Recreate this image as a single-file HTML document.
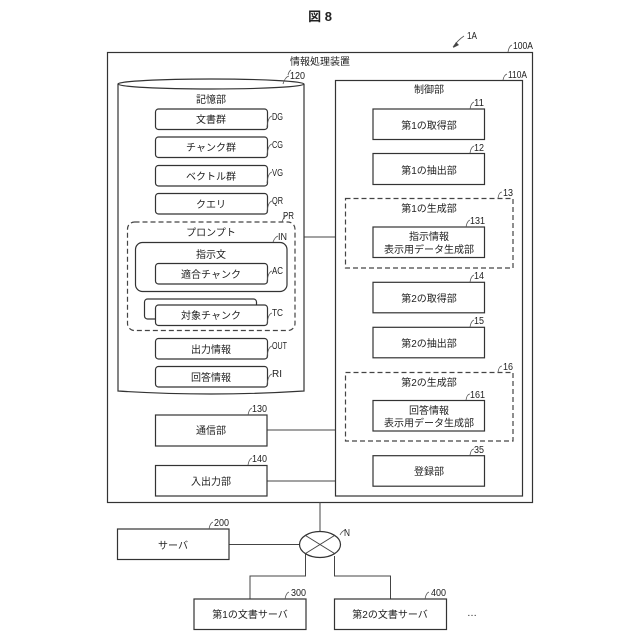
<!DOCTYPE html>
<html lang="ja"><head><meta charset="utf-8"><title>図8</title>
<style>
html,body{margin:0;padding:0;background:#fff}
svg{display:block}
text{font-family:"Liberation Sans","Noto Sans CJK JP",sans-serif;font-size:10px;fill:#222}
.c{text-anchor:middle}
.r{fill:#fff;stroke:#333;stroke-width:1.2}
.d{fill:#fff;stroke:#444;stroke-width:1.2;stroke-dasharray:5 3}
.l{fill:none;stroke:#444;stroke-width:1}
.q{fill:none;stroke:#555;stroke-width:.8}
</style></head><body>
<svg width="640" height="640" viewBox="0 0 640 640" xmlns="http://www.w3.org/2000/svg">
<text x="320" y="21" class="c" style="font-size:13px;font-weight:bold">図 8</text>
<rect class="r" x="107.5" y="52.5" width="425" height="450"/>
<text x="320" y="65" class="c">情報処理装置</text>
<path class="l" d="M304 237H335M267 430H335M267 481H335M320 502V531M229 544.5H300M305.5 554V576H250V599M334.5 556V576H390.500V599"/>
<path class="r" d="M118 84V391Q211 397 304 391V84"/>
<ellipse class="r" cx="211" cy="84" rx="93" ry="5"/>
<text x="211" y="103" class="c">記憶部</text>
<g>
<rect class="r" x="155.500" y="109" width="112" height="20.500" rx="3"/><text x="211" y="123" class="c">文書群</text>
<rect class="r" x="155.500" y="137" width="112" height="20.500" rx="3"/><text x="211" y="151" class="c">チャンク群</text>
<rect class="r" x="155.500" y="165.500" width="112" height="20.500" rx="3"/><text x="211" y="180" class="c">ベクトル群</text>
<rect class="r" x="155.500" y="193.500" width="112" height="20.500" rx="3"/><text x="211" y="208" class="c">クエリ</text>
<rect class="d" x="127.500" y="222" width="167.500" height="108.500" rx="7"/><text x="211" y="236" class="c">プロンプト</text>
<rect class="r" x="135.500" y="242.500" width="151.500" height="49" rx="7"/><text x="211" y="258" class="c">指示文</text>
<rect class="r" x="155.500" y="263.500" width="112" height="20.500" rx="3"/><text x="211" y="278" class="c">適合チャンク</text>
<rect class="r" x="144.500" y="299" width="112" height="20" rx="3"/>
<rect class="r" x="155.500" y="305" width="112" height="20.500" rx="3"/><text x="211" y="319" class="c">対象チャンク</text>
<rect class="r" x="155.500" y="338.500" width="112" height="20.500" rx="3"/><text x="211" y="353" class="c">出力情報</text>
<rect class="r" x="155.500" y="366.500" width="112" height="20.500" rx="3"/><text x="211" y="381" class="c">回答情報</text>
<rect class="r" x="155.500" y="415" width="111.500" height="31"/><text x="211" y="434" class="c">通信部</text>
<rect class="r" x="155.500" y="465.500" width="111.500" height="30.500"/><text x="211" y="485" class="c">入出力部</text>
</g>
<rect class="r" x="335.500" y="80.500" width="187" height="415.500"/>
<text x="429" y="93" class="c">制御部</text>
<rect class="r" x="373" y="109" width="111.500" height="30.500"/><text x="429" y="129" class="c">第1の取得部</text>
<rect class="r" x="373" y="153.500" width="111.500" height="31"/><text x="429" y="174" class="c">第1の抽出部</text>
<rect class="d" x="345.500" y="198.500" width="167.500" height="69.500"/><text x="429" y="212" class="c">第1の生成部</text>
<rect class="r" x="373" y="227" width="111.500" height="30.500"/><text x="429" y="240" class="c">指示情報</text><text x="429" y="253" class="c">表示用データ生成部</text>
<rect class="r" x="373" y="282.300" width="111.500" height="30.500"/><text x="429" y="302" class="c">第2の取得部</text>
<rect class="r" x="373" y="327.300" width="111.500" height="30.500"/><text x="429" y="347" class="c">第2の抽出部</text>
<rect class="d" x="345.500" y="372.500" width="167.500" height="68.500"/><text x="429" y="386" class="c">第2の生成部</text>
<rect class="r" x="373" y="400.500" width="111.500" height="30.500"/><text x="429" y="414" class="c">回答情報</text><text x="429" y="426.500" class="c">表示用データ生成部</text>
<rect class="r" x="373" y="455.700" width="111.500" height="30.500"/><text x="429" y="475" class="c">登録部</text>
<rect class="r" x="117.500" y="529" width="111.500" height="30.500"/><text x="173" y="549" class="c">サーバ</text>
<rect class="r" x="194" y="599" width="112" height="30.500"/><text x="250" y="618" class="c">第1の文書サーバ</text>
<rect class="r" x="334.500" y="599" width="112" height="30.500"/><text x="390" y="618" class="c">第2の文書サーバ</text>
<text x="467" y="616" style="font-size:10px">…</text>
<ellipse class="r" cx="320" cy="544.500" rx="20.500" ry="13"/>
<path class="l" d="M305.500 535.500L334.500 553.500M334.500 535.500L305.500 553.500"/>
<path class="q" d="M288 75Q289 71 291 70M453 47Q458 40 464 36M508 52Q509 46 512 45M283 84Q285 77 289 76M503 80Q504 75 507 74M267 127Q268 117 272 116M267 155Q268 145 272 144M267 183Q268 173 272 172M267 212Q268 202 272 201M282 222Q284 216 287 215M273 242Q275 237 278 236M267 282Q268 272 272 271M267 324Q268 314 272 313M267 357Q268 347 272 346M267 385Q268 375 272 374M248 415Q249 409 252 408M248 465Q249 459 252 458M209 529Q210 523 213 522M285 599Q286 593 289 592M425 599Q426 593 429 592M340 535Q342 531 345 530M470 109Q471 103 474 102M470 153Q471 147 474 146M498 198Q499 192 502 192M466 227Q467 221 470 220M470 282Q471 276 474 275M470 327Q471 321 474 320M498 372Q499 366 502 366M466 400Q467 394 470 394M470 455Q471 449 474 449"/>
<path d="M453 48L459 45L456 42Z" fill="#444"/>
<g style="font-size:10.500px">
<text x="467" y="39" textLength="10" lengthAdjust="spacingAndGlyphs">1A</text>
<text x="513" y="49" textLength="20" lengthAdjust="spacingAndGlyphs">100A</text>
<text x="508" y="78" textLength="19" lengthAdjust="spacingAndGlyphs">110A</text>
<text x="290" y="79" textLength="15" lengthAdjust="spacingAndGlyphs">120</text>
<text x="272" y="120" textLength="11" lengthAdjust="spacingAndGlyphs">DG</text>
<text x="272" y="148" textLength="11" lengthAdjust="spacingAndGlyphs">CG</text>
<text x="272" y="176" textLength="11" lengthAdjust="spacingAndGlyphs">VG</text>
<text x="272" y="204" textLength="11" lengthAdjust="spacingAndGlyphs">QR</text>
<text x="283" y="219" textLength="11" lengthAdjust="spacingAndGlyphs">PR</text>
<text x="278" y="240" textLength="9" lengthAdjust="spacingAndGlyphs">IN</text>
<text x="272" y="274" textLength="11" lengthAdjust="spacingAndGlyphs">AC</text>
<text x="272" y="316" textLength="11" lengthAdjust="spacingAndGlyphs">TC</text>
<text x="272" y="349" textLength="15" lengthAdjust="spacingAndGlyphs">OUT</text>
<text x="272" y="377" textLength="10" lengthAdjust="spacingAndGlyphs">RI</text>
<text x="252" y="412" textLength="15" lengthAdjust="spacingAndGlyphs">130</text>
<text x="252" y="462" textLength="15" lengthAdjust="spacingAndGlyphs">140</text>
<text x="214" y="526" textLength="15" lengthAdjust="spacingAndGlyphs">200</text>
<text x="291" y="596" textLength="15" lengthAdjust="spacingAndGlyphs">300</text>
<text x="431" y="596" textLength="15" lengthAdjust="spacingAndGlyphs">400</text>
<text x="344" y="536" textLength="6" lengthAdjust="spacingAndGlyphs">N</text>
<text x="474" y="106" textLength="10" lengthAdjust="spacingAndGlyphs">11</text>
<text x="474" y="151" textLength="10" lengthAdjust="spacingAndGlyphs">12</text>
<text x="503" y="196" textLength="10" lengthAdjust="spacingAndGlyphs">13</text>
<text x="470" y="224" textLength="15" lengthAdjust="spacingAndGlyphs">131</text>
<text x="474" y="279" textLength="10" lengthAdjust="spacingAndGlyphs">14</text>
<text x="474" y="324" textLength="10" lengthAdjust="spacingAndGlyphs">15</text>
<text x="503" y="370" textLength="10" lengthAdjust="spacingAndGlyphs">16</text>
<text x="470" y="398" textLength="15" lengthAdjust="spacingAndGlyphs">161</text>
<text x="474" y="453" textLength="10" lengthAdjust="spacingAndGlyphs">35</text>
</g>
</svg>
</body></html>
